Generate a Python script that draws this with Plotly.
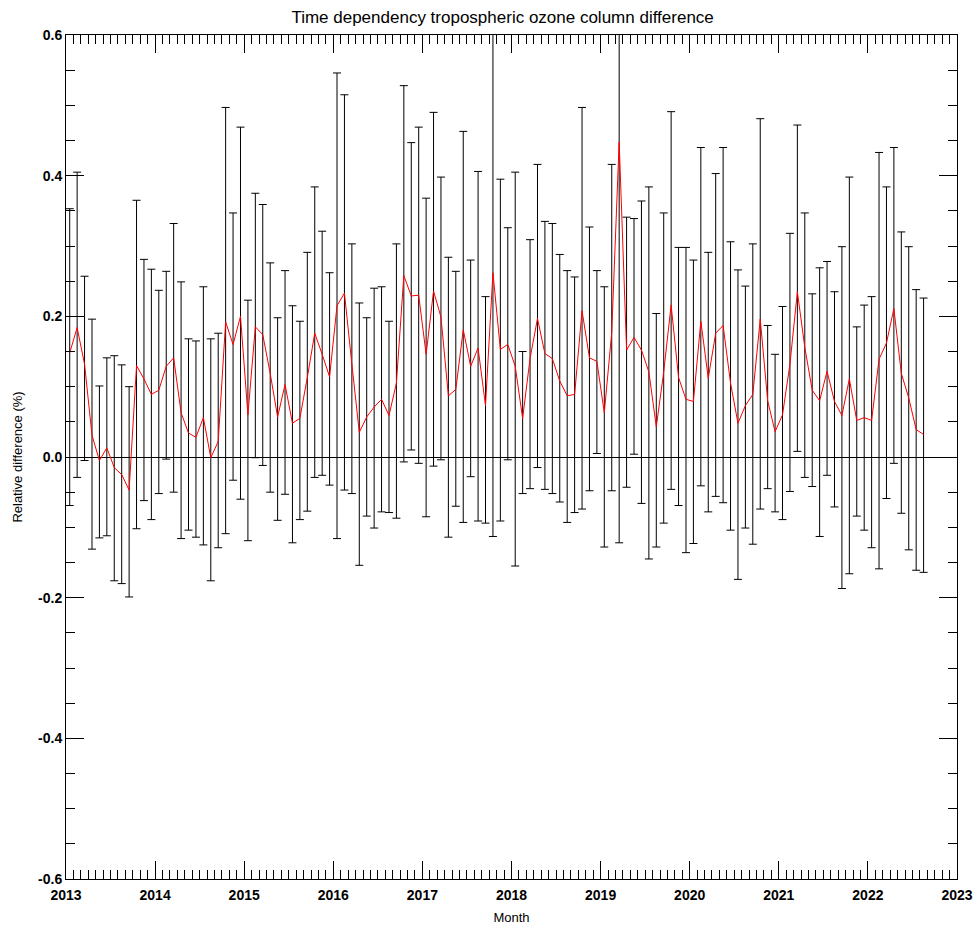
import plotly.graph_objects as go

start_year = 2013
n_months = 116

mean_diff = [
    0.148, 0.184, 0.132, 0.031, -0.005, 0.013, -0.015, -0.025, -0.047, 0.130, 0.111, 0.089,
    0.095, 0.129, 0.141, 0.063, 0.034, 0.028, 0.056, -0.001, 0.022, 0.192, 0.160, 0.200,
    0.060, 0.185, 0.174, 0.119, 0.057, 0.103, 0.048, 0.055, 0.113, 0.176, 0.146, 0.114,
    0.215, 0.233, 0.132, 0.035, 0.057, 0.071, 0.082, 0.059, 0.105, 0.258, 0.229, 0.230,
    0.146, 0.236, 0.199, 0.087, 0.096, 0.181, 0.129, 0.155, 0.073, 0.262, 0.153, 0.160,
    0.129, 0.055, 0.140, 0.197, 0.147, 0.140, 0.108, 0.087, 0.089, 0.208, 0.141, 0.136,
    0.063, 0.177, 0.448, 0.152, 0.170, 0.152, 0.121, 0.043, 0.121, 0.216, 0.113, 0.082,
    0.079, 0.193, 0.112, 0.176, 0.187, 0.105, 0.048, 0.073, 0.089, 0.196, 0.080, 0.036,
    0.060, 0.132, 0.235, 0.156, 0.095, 0.080, 0.122, 0.079, 0.059, 0.111, 0.052, 0.056,
    0.052, 0.139, 0.162, 0.211, 0.119, 0.084, 0.039, 0.032,
]

upper = [
    0.353, 0.405, 0.257, 0.196, 0.101, 0.141, 0.144, 0.131, 0.100, 0.365, 0.281, 0.267,
    0.237, 0.264, 0.332, 0.249, 0.168, 0.165, 0.242, 0.168, 0.176, 0.497, 0.347, 0.469,
    0.223, 0.375, 0.359, 0.276, 0.198, 0.265, 0.215, 0.193, 0.291, 0.384, 0.321, 0.262,
    0.546, 0.515, 0.303, 0.219, 0.198, 0.240, 0.242, 0.193, 0.303, 0.528, 0.447, 0.469,
    0.368, 0.490, 0.398, 0.284, 0.264, 0.463, 0.280, 0.406, 0.228, 0.650, 0.395, 0.326,
    0.405, 0.150, 0.309, 0.416, 0.335, 0.332, 0.288, 0.265, 0.256, 0.497, 0.327, 0.265,
    0.242, 0.416, 0.650, 0.341, 0.339, 0.364, 0.384, 0.204, 0.347, 0.491, 0.298, 0.298,
    0.280, 0.440, 0.291, 0.403, 0.440, 0.306, 0.266, 0.243, 0.303, 0.481, 0.187, 0.146,
    0.214, 0.318, 0.472, 0.347, 0.232, 0.269, 0.278, 0.235, 0.299, 0.398, 0.185, 0.216,
    0.228, 0.433, 0.384, 0.440, 0.320, 0.299, 0.238, 0.226,
]

lower = [
    -0.069, -0.029, -0.005, -0.131, -0.115, -0.112, -0.176, -0.180, -0.199, -0.102, -0.062, -0.089,
    -0.052, -0.003, -0.050, -0.116, -0.104, -0.114, -0.125, -0.176, -0.129, -0.109, -0.033, -0.060,
    -0.119, -0.001, -0.012, -0.050, -0.090, -0.053, -0.122, -0.089, -0.077, -0.029, -0.026, -0.040,
    -0.116, -0.047, -0.052, -0.154, -0.084, -0.101, -0.078, -0.079, -0.087, -0.007, 0.010, -0.009,
    -0.085, -0.013, -0.004, -0.114, -0.070, -0.093, -0.028, -0.091, -0.094, -0.113, -0.091, -0.004,
    -0.155, -0.052, -0.045, -0.015, -0.046, -0.052, -0.064, -0.093, -0.079, -0.074, -0.048, 0.005,
    -0.128, -0.048, -0.122, -0.043, 0.004, -0.066, -0.145, -0.128, -0.094, -0.046, -0.069, -0.136,
    -0.123, -0.041, -0.078, -0.056, -0.065, -0.104, -0.174, -0.101, -0.124, -0.074, -0.045, -0.078,
    -0.089, -0.049, 0.008, -0.029, -0.042, -0.113, -0.026, -0.071, -0.187, -0.166, -0.084, -0.104,
    -0.129, -0.159, -0.059, -0.009, -0.080, -0.132, -0.161, -0.164,
]

year_ticks = list(range(2013, 2024))
y_ticks = [-0.6, -0.4, -0.2, 0.0, 0.2, 0.4, 0.6]

# mid-month positions in decimal years
x = [start_year + (i + 0.5) / 12 for i in range(n_months)]
err_plus = [u - m for u, m in zip(upper, mean_diff)]
err_minus = [m - l for m, l in zip(mean_diff, lower)]

fig = go.Figure()
fig.add_trace(go.Scatter(
    x=x, y=mean_diff, mode="lines",
    line=dict(color="red", width=1),
    error_y=dict(type="data", symmetric=False, array=err_plus, arrayminus=err_minus,
                 color="black", thickness=1, width=4),
    showlegend=False,
))

font_family = "Liberation Sans, Arial, sans-serif"

W, H = 976, 926

fig.update_layout(
    width=W, height=H,
    paper_bgcolor="white", plot_bgcolor="white",
    margin=dict(l=66, r=19, t=35, b=47, autoexpand=False),
    title=dict(text="Time dependency tropospheric ozone column difference",
               font=dict(family=font_family, size=17, color="black"),
               x=0.49, xref="paper", xanchor="center",
               y=1 - 17 / H, yref="container", yanchor="middle",
               automargin=False),
    font=dict(family=font_family, color="black"),
)

fig.update_xaxes(
    range=[2013, 2023], automargin=False,
    tickmode="array", tickvals=year_ticks, ticktext=[str(v) for v in year_ticks],
    ticks="inside", ticklen=18, tickwidth=1, tickcolor="black",
    minor=dict(tickmode="linear", tick0=2013, dtick=1 / 12, ticks="inside",
               ticklen=9, tickwidth=1, tickcolor="black", showgrid=False),
    showline=True, linecolor="black", linewidth=1, mirror="ticks",
    showgrid=False, zeroline=False,
    tickfont=dict(family=font_family, size=14, color="black", weight="bold"),
    ticklabelstandoff=3,
    title=dict(text="Month", font=dict(family=font_family, size=13, color="black"),
               standoff=11),
)

fig.update_yaxes(
    range=[-0.6, 0.6], automargin=False,
    tickmode="array", tickvals=y_ticks, ticktext=[f"{v:.1f}" for v in y_ticks],
    ticks="inside", ticklen=18, tickwidth=1, tickcolor="black",
    minor=dict(tickmode="linear", tick0=-0.6, dtick=0.05, ticks="inside",
               ticklen=9, tickwidth=1, tickcolor="black", showgrid=False),
    showline=True, linecolor="black", linewidth=1, mirror="ticks",
    showgrid=False,
    zeroline=True, zerolinecolor="black", zerolinewidth=1,
    tickfont=dict(family=font_family, size=14, color="black", weight="bold"),
    title=dict(text="Relative difference (%)", font=dict(family=font_family, size=13, color="black"),
               standoff=12),
)

fig.write_html("out.html", config={"displayModeBar": False},
               post_script="document.body.style.margin='0';")
